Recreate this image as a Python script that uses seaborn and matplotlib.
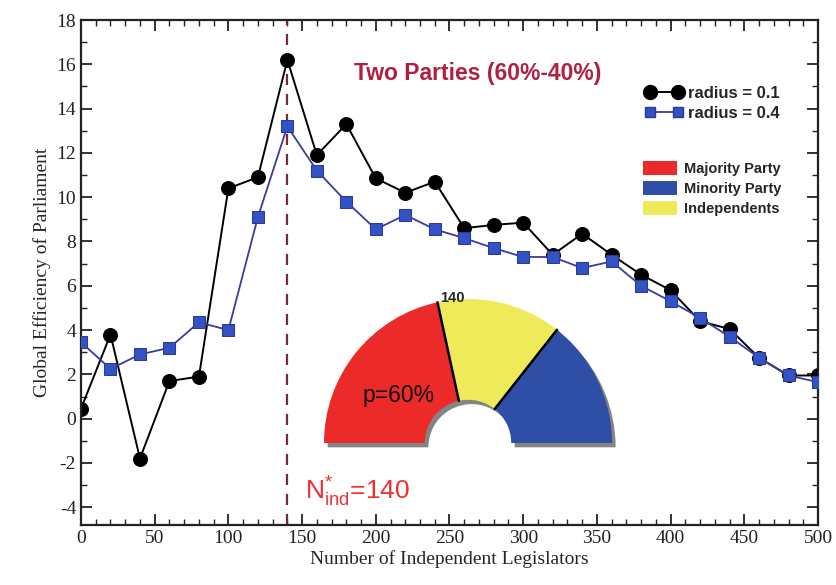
import numpy as np
import pandas as pd
import matplotlib
matplotlib.use("Agg")
from matplotlib import pyplot as plt
from matplotlib.patches import Wedge, Patch
from matplotlib.lines import Line2D
from matplotlib.ticker import MultipleLocator
import seaborn as sns

# dados
n_ind = [0, 20, 40, 60, 80, 100, 120, 140, 160, 180, 200, 220, 240,
         260, 280, 300, 320, 340, 360, 380, 400, 420, 440, 460, 480, 500]
eff_r01 = [0.45, 3.8, -1.8, 1.7, 1.9, 10.4, 10.9, 16.2, 11.9, 13.3, 10.85, 10.2, 10.7,
           8.6, 8.75, 8.85, 7.4, 8.35, 7.4, 6.5, 5.8, 4.4, 4.05, 2.75, 1.95, 1.95]
eff_r04 = [3.45, 2.25, 2.9, 3.2, 4.35, 4.0, 9.1, 13.2, 11.2, 9.8, 8.55, 9.2, 8.55,
           8.15, 7.7, 7.3, 7.3, 6.8, 7.1, 6.0, 5.3, 4.55, 3.7, 2.75, 1.95, 1.65]

# parlamento: 500 cadeiras, 140 independentes, p = 60%
seat_groups = ["Majority Party", "Independents", "Minority Party"]
seat_counts = [216, 140, 144]
seat_colors = ["#ec2a2a", "#eeea5a", "#2f4fa6"]

df = pd.DataFrame({"n": n_ind + n_ind,
                   "eff": eff_r01 + eff_r04,
                   "radius": ["radius = 0.1"] * len(n_ind) + ["radius = 0.4"] * len(n_ind)})

sns.set_style("ticks")
plt.rcParams["font.family"] = ["Liberation Serif", "DejaVu Serif"]
plt.rcParams["axes.unicode_minus"] = False

fig = plt.figure(figsize=(8.37, 5.85), dpi=100)
ax = fig.add_axes([81 / 837, 1 - 525 / 585, 737 / 837, 505 / 585])

sub1 = df[df["radius"] == "radius = 0.1"]
sub4 = df[df["radius"] == "radius = 0.4"]
sns.lineplot(data=sub4, x="n", y="eff", ax=ax, color="#3a3aa0", lw=1.3,
             marker="s", markersize=8, markerfacecolor="#3352c4",
             markeredgecolor="#2a3a9a", label="radius = 0.4", zorder=3)
sns.lineplot(data=sub1, x="n", y="eff", ax=ax, color="black", lw=1.4,
             marker="o", markersize=10, markerfacecolor="black",
             markeredgecolor="black", label="radius = 0.1", zorder=2)

ax.axvline(140, color="#7a2838", ls=(0, (5, 4)), lw=1.6, zorder=1)

ax.set_xlim(0, 500)
ax.set_ylim(-4.8, 18)
ax.xaxis.set_major_locator(MultipleLocator(50))
ax.xaxis.set_minor_locator(MultipleLocator(10))
ax.yaxis.set_major_locator(MultipleLocator(2))
ax.yaxis.set_minor_locator(MultipleLocator(1))
ax.tick_params(which="both", direction="in", top=True, right=True, colors="#222222",
               labelsize=14)
ax.tick_params(which="major", length=8, width=1.3)
ax.tick_params(which="minor", length=4, width=1.0)
for s in ax.spines.values():
    s.set_linewidth(1.6)
    s.set_color("#222222")
ax.set_xlabel("Number of Independent Legislators", fontsize=14, labelpad=2)
ax.set_ylabel("Global Efficiency of Parliament", fontsize=14, labelpad=4)

ax.text(269, 15.6, "Two Parties (60%-40%)", color="#b02040", fontsize=16.5,
        weight="bold", family=["Liberation Sans", "DejaVu Sans"],
        ha="center", va="center")
ax.text(152, -3.3, r"$\mathregular{N^{*}_{ind}}$=140", color="#ee3030", fontsize=19,
        family=["Liberation Sans", "DejaVu Sans"], ha="left", va="center")

# legendas
h = [Line2D([], [], color="black", marker="o", markersize=10, lw=1.4),
     Line2D([], [], color="#3a3aa0", marker="s", markersize=7.5,
            markerfacecolor="#3352c4", markeredgecolor="#2a3a9a", lw=1.3)]
leg1 = ax.legend(h, ["radius = 0.1", "radius = 0.4"], loc="upper left",
                 bbox_to_anchor=(0.745, 0.9), frameon=False, numpoints=2,
                 handlelength=2.3, handletextpad=0.3, labelspacing=0.35,
                 prop={"family": "Liberation Sans", "weight": "bold", "size": 12})
ax.add_artist(leg1)
ph = [Patch(facecolor=seat_colors[0], edgecolor="none"),
      Patch(facecolor=seat_colors[2], edgecolor="none"),
      Patch(facecolor=seat_colors[1], edgecolor="none")]
ax.legend(ph, ["Majority Party", "Minority Party", "Independents"], loc="upper left",
          bbox_to_anchor=(0.745, 0.746), frameon=False, handlelength=2.3,
          handleheight=1.1, handletextpad=0.5, labelspacing=0.32,
          prop={"family": "Liberation Sans", "weight": "bold", "size": 10.5})

# parlamento (semi-anel)
pax = fig.add_axes([314 / 837, 1 - 455 / 585, 308 / 837, 166 / 585])
pax.set_xlim(-154 / 144, 154 / 144)
pax.set_ylim(-12 / 144, 154 / 144)
pax.axis("off")
pax.add_patch(Wedge((0.025, -0.03), 1.0, 0, 180, width=0.7, facecolor="#333333",
                    edgecolor="none", alpha=0.6))
total = sum(seat_counts)
start = 180.0
for cnt, col in zip(seat_counts, seat_colors):
    ang = 180.0 * cnt / total
    pax.add_patch(Wedge((0, 0), 1.0, start - ang, start, width=0.7,
                        facecolor=col, edgecolor="none"))
    start -= ang
start = 180.0
for cnt in seat_counts[:-1]:
    start -= 180.0 * cnt / total
    t = np.deg2rad(start)
    pax.plot([0.3 * np.cos(t), np.cos(t)], [0.3 * np.sin(t), np.sin(t)],
             color="black", lw=1.8)
b = np.deg2rad(180.0 - 180.0 * seat_counts[0] / total)
pax.text(np.cos(b) + 0.02, np.sin(b) + 0.03, "140", fontsize=10.5, weight="bold",
         family=["Liberation Sans", "DejaVu Sans"], ha="left", va="center")
pax.text(-0.48, 0.33, "p=60%", fontsize=16.5, family=["Liberation Sans", "DejaVu Sans"],
         ha="center", va="center", color="#111111")

plt.savefig("out.png", dpi=100)
